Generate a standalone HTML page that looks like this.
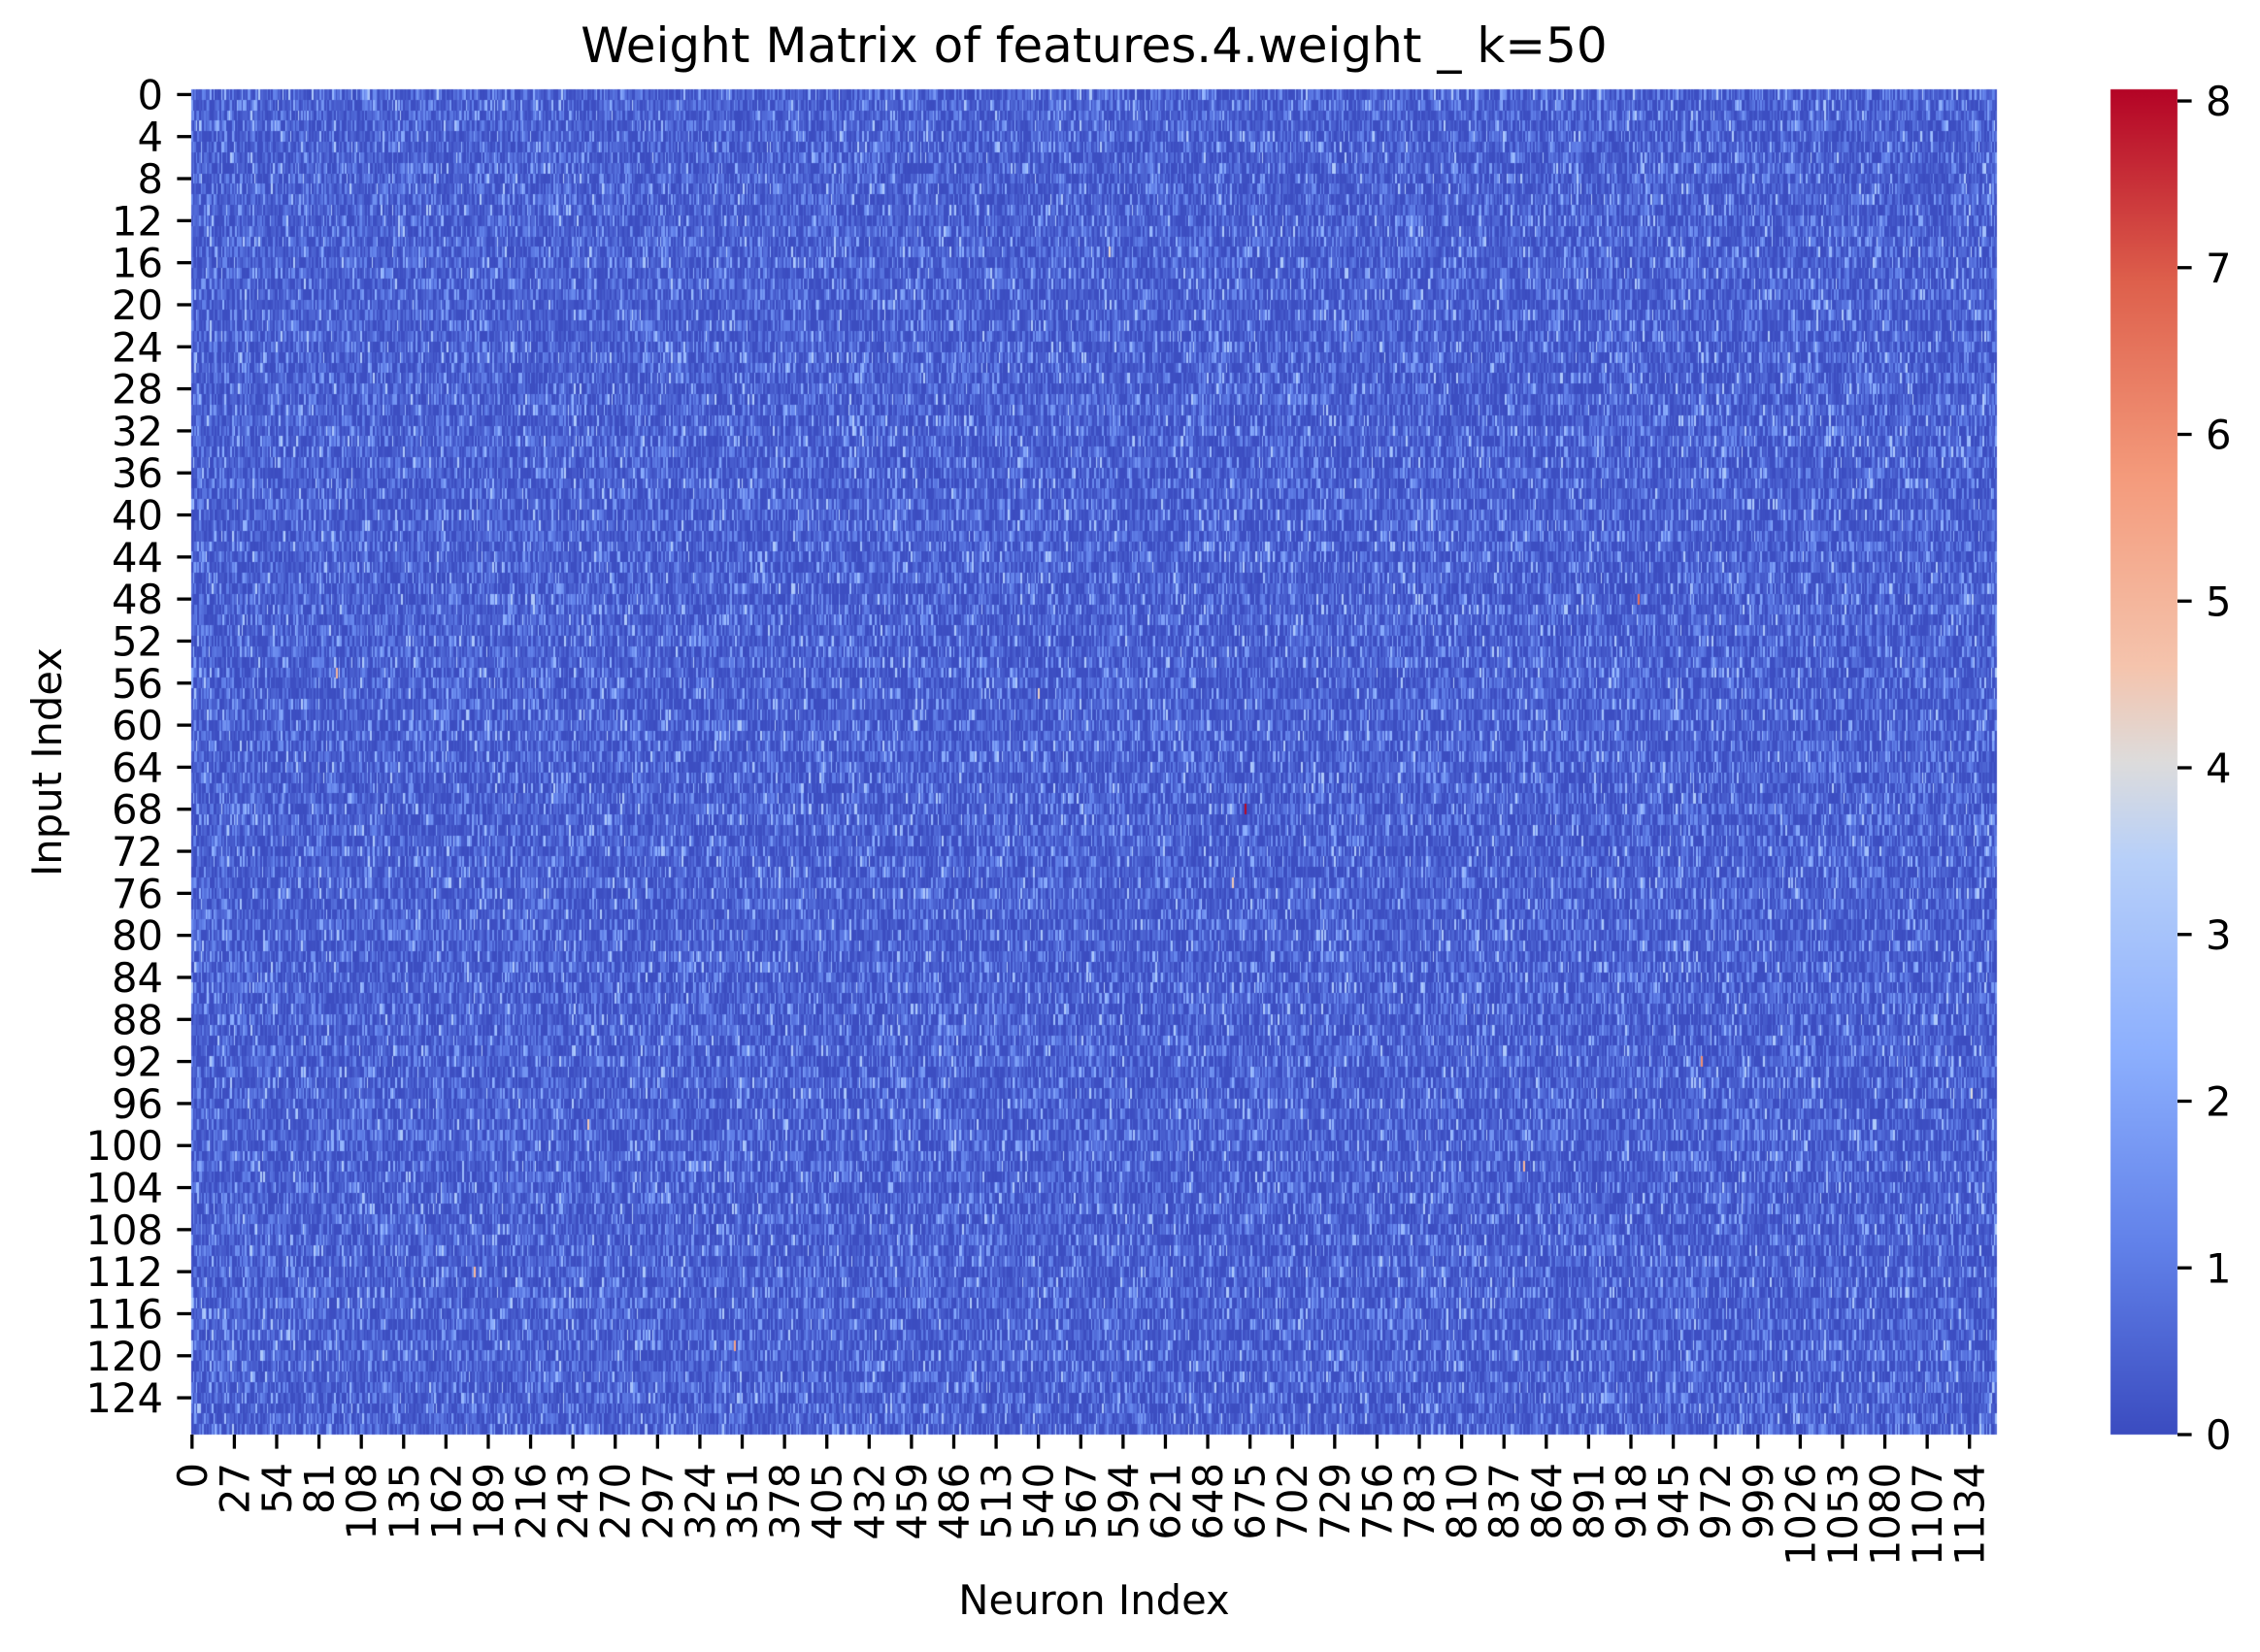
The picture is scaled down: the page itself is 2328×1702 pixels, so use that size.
<!DOCTYPE html>
<html><head><meta charset="utf-8">
<style>
html,body{margin:0;padding:0;background:#fff;}
#wrap{position:relative;width:2328px;height:1702px;overflow:hidden;font-family:"DejaVu Sans","Liberation Sans",sans-serif;}
#wrap canvas{position:absolute;left:0;top:0;}
#wrap svg{position:absolute;left:0;top:0;}
</style></head>
<body>
<div id="wrap">
<canvas id="hm" width="2328" height="1702"></canvas>
<svg id="ov" width="2328" height="1702"></svg>
</div>
<script>
// ---- data ----
const nCols = 1152;
const nRows = 128;
const vmax = 8.07;
const xTickLabels = [0,27,54,81,108,135,162,189,216,243,270,297,324,351,378,405,432,459,486,513,540,567,594,621,648,675,702,729,756,783,810,837,864,891,918,945,972,999,1026,1053,1080,1107,1134];
const yTickLabels = [0,4,8,12,16,20,24,28,32,36,40,44,48,52,56,60,64,68,72,76,80,84,88,92,96,100,104,108,112,116,120,124];
const cbTickLabels = [0,1,2,3,4,5,6,7,8];
// notable high-weight cells
const hotCols = [672,923,963,92,850,346,180,664,253,1135,585,540];
const hotRows = [68,48,92,55,102,119,112,75,98,95,15,57];
const hotVals = [8.0,6.6,6.0,5.0,5.0,5.5,5.0,4.5,4.5,4.0,4.2,4.3];
// background noise parameters (weights too dense to transcribe individually)
const noiseSeed = 12345;
const zeroFraction = 0.35;
const tailMean = 0.75;
const tailOffset = 0.2;

// ---- layout ----
const L=197,T=92,R=2057,B=1478;
const cw=(R-L)/nCols, rh=(B-T)/nRows;
const xScale=c=>L+c*cw, yScale=r=>T+r*rh;
const cbL=2174,cbR=2243;
const cbY=v=>B-(v/vmax)*(B-T);

const stops=[[0,59,76,192],[0.143,98,130,234],[0.286,141,176,254],[0.429,184,208,249],[0.5,221,220,220],[0.571,245,196,173],[0.714,244,154,123],[0.857,222,96,76],[1,180,4,38]];
function cmap(t){t=Math.max(0,Math.min(1,t));for(let i=1;i<stops.length;i++){if(t<=stops[i][0]){const a=stops[i-1],b=stops[i];const f=(t-a[0])/(b[0]-a[0]);return `rgb(${Math.round(a[1]+f*(b[1]-a[1]))},${Math.round(a[2]+f*(b[2]-a[2]))},${Math.round(a[3]+f*(b[3]-a[3]))})`;}}return 'rgb(180,4,38)';}
function mulberry32(a){return function(){a|=0;a=a+0x6D2B79F5|0;let t=Math.imul(a^a>>>15,1|a);t=t+Math.imul(t^t>>>7,61|t)^t;return((t^t>>>14)>>>0)/4294967296;}}
const rnd=mulberry32(noiseSeed);

const ctx=document.getElementById('hm').getContext('2d');
for(let r=0;r<nRows;r++){
  const y0=Math.round(yScale(r)),y1=Math.round(yScale(r+1));
  for(let c=0;c<nCols;c++){
    let v;
    if(rnd()<zeroFraction) v=rnd()*0.08;
    else v=tailOffset-Math.log(rnd()||1e-9)*tailMean;
    if(v>3.2) v=3.2;
    const x0=Math.round(xScale(c)),x1=Math.round(xScale(c+1));
    ctx.fillStyle=cmap(v/vmax);ctx.fillRect(x0,y0,Math.max(1,x1-x0),y1-y0);
  }
}
for(let i=0;i<hotCols.length;i++){
  ctx.fillStyle=cmap(hotVals[i]/vmax);
  const x0=Math.round(xScale(hotCols[i])),x1=Math.round(xScale(hotCols[i]+1));
  ctx.fillRect(x0,Math.round(yScale(hotRows[i])),Math.max(2,x1-x0),Math.round(rh));
}
// colorbar gradient
const g=ctx.createLinearGradient(0,B,0,T);
stops.forEach(s=>g.addColorStop(s[0],`rgb(${s[1]},${s[2]},${s[3]})`));
ctx.fillStyle=g;ctx.fillRect(cbL,T,cbR-cbL,B-T);

// ---- overlay ----
const svg=document.getElementById('ov');const NS='http://www.w3.org/2000/svg';
function mk(tag,attrs,txt){const e=document.createElementNS(NS,tag);for(const k in attrs)e.setAttribute(k,attrs[k]);if(txt!==undefined)e.textContent=txt;svg.appendChild(e);return e;}
const FS=41.7;
let e;
e=mk('text',{x:1127,y:64,'text-anchor':'middle','font-size':50,fill:'#000'},'Weight Matrix of features.4.weight _ k=50');


e=mk('text',{x:1127,y:1663,'text-anchor':'middle','font-size':FS,fill:'#000'},'Neuron Index');


e=mk('text',{x:0,y:0,'text-anchor':'middle','font-size':FS,fill:'#000',transform:'translate(63,785) rotate(-90)'},'Input Index');


xTickLabels.forEach(v=>{
  const x=xScale(v+0.5);
  e=mk('line',{x1:x,x2:x,y1:B,y2:B+14.6,stroke:'#000','stroke-width':3.3});
  
  
  e=mk('text',{x:0,y:0,'text-anchor':'end','font-size':FS,fill:'#000',transform:`translate(${x+15},${B+29}) rotate(-90)`},String(v));
  
  
});
yTickLabels.forEach(v=>{
  const y=yScale(v+0.5);
  e=mk('line',{x1:L-14.6,x2:L,y1:y,y2:y,stroke:'#000','stroke-width':3.3});
  
  
  e=mk('text',{x:L-29,y:y+15,'text-anchor':'end','font-size':FS,fill:'#000'},String(v));
  
  
});
cbTickLabels.forEach(v=>{
  const y=cbY(v);
  e=mk('line',{x1:cbR,x2:cbR+14.6,y1:y,y2:y,stroke:'#000','stroke-width':3.3});
  
  
  e=mk('text',{x:cbR+29,y:y+15,'text-anchor':'start','font-size':FS,fill:'#000'},String(v));
  
  
});
</script>
</body></html>
